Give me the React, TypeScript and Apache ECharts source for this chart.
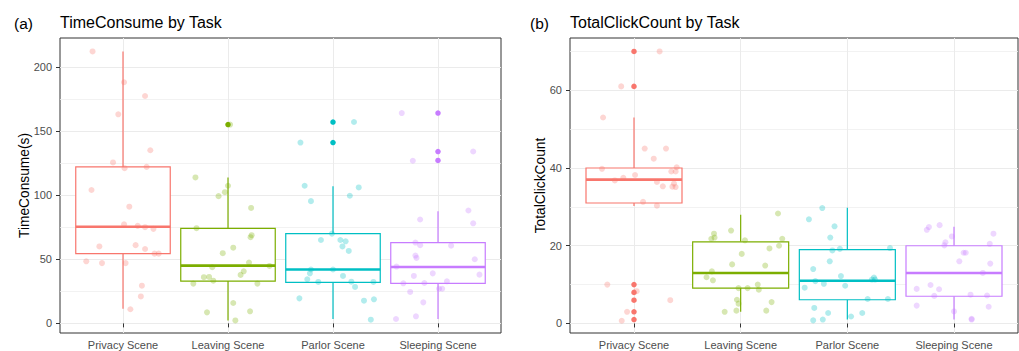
import React, { useEffect, useRef } from "react";
import * as echarts from "echarts";

const categories = ["Privacy Scene", "Leaving Scene", "Parlor Scene", "Sleeping Scene"];
const palette = ["#F8766D", "#7CAE00", "#00BFC4", "#C77CFF"];

// Box stats [min, Q1, median, Q3, max]
const timeBox = [
  [11.5, 54.4, 75.3, 122, 212],
  [2.3, 33, 45, 74, 113.8],
  [3.4, 32, 42, 70, 107],
  [3.4, 31.25, 44, 63, 87.5],
];
const timeOutliers = [[], [155], [157, 141], [164, 134, 127]];

const clickBox = [
  [30.2, 31, 37, 40, 53],
  [3, 9.1, 13, 21, 28],
  [1, 6.1, 11, 19, 29.8],
  [1, 7, 13, 20, 24.9],
];
const clickOutliers = [[70, 61, 10, 8, 6, 3, 1], [], [], []];

// Jittered observations: [x offset from category, value]
const timePrivacy = [
  [-0.29, 212], [0.01, 188], [0.21, 177.3], [-0.045, 163], [0.26, 135], [-0.095, 125.5],
  [0.015, 121], [0.225, 122], [-0.3, 104], [0.06, 91], [0.01, 77.3], [0.14, 76], [0.21, 75],
  [0.29, 73.7], [-0.225, 60], [0.12, 61], [0.21, 58], [0.3, 54.4], [0.34, 54.4], [-0.35, 48.4],
  [-0.2, 47], [0.025, 47], [0.18, 29.4], [0.17, 21], [0.07, 11],
];
const timeLeaving = [
  [0.02, 155], [-0.31, 113.8], [0.0, 107.3], [-0.03, 102.3], [-0.09, 99.2], [0.22, 90],
  [-0.3, 74.2], [0.225, 68.75], [0.215, 67.2], [0.05, 59], [-0.05, 54.7], [0.2, 47.4],
  [0.395, 44.8], [-0.15, 43.75], [0.15, 40.6], [0.12, 37.8], [-0.23, 36], [-0.18, 36.2],
  [-0.14, 33.3], [-0.33, 31], [0.28, 31], [0.05, 15.9], [-0.2, 8.6], [0.21, 9.4], [0.07, 2.3],
];
const timeParlor = [
  [0.2, 157], [-0.31, 141], [-0.27, 107.3], [0.245, 106], [0.16, 99.5], [-0.21, 95.3],
  [-0.01, 70], [-0.115, 65], [0.07, 65], [0.12, 64], [0.09, 60], [0.15, 56.5], [-0.21, 42],
  [0, 42], [-0.22, 39], [0.095, 37], [-0.245, 34.4], [-0.14, 32.3], [0.175, 32.5],
  [0.385, 32.3], [0.21, 28.4], [-0.32, 19.5], [0.295, 17.7], [0.39, 18.75], [0.36, 2.9],
];
const timeSleeping = [
  [-0.345, 164], [0.335, 134], [-0.24, 126.8], [0.29, 88], [-0.17, 81], [0.335, 78],
  [-0.215, 63], [-0.17, 61], [0.125, 60.6], [-0.215, 52.9], [-0.205, 51], [0.35, 50],
  [-0.395, 44.3], [-0.05, 39], [0.395, 38], [-0.23, 37], [0.085, 32.8], [-0.33, 31.25],
  [-0.13, 31.5], [0.01, 27], [0.04, 27], [-0.265, 24.5], [-0.14, 16.4], [-0.4, 3.4], [-0.21, 5.5],
];

const clickPrivacy = [
  [0.24, 70], [-0.12, 61], [-0.29, 53], [0.1, 45], [0.3, 45], [0.185, 42.4], [-0.3, 39.8],
  [0.01, 38.2], [0.4, 40.2], [0.35, 39.1], [0.39, 39.1], [-0.1, 37.5], [-0.18, 36.8],
  [0.215, 36.4], [0.375, 36], [0.27, 35.3], [0.36, 35.2], [0.39, 35.1], [0.085, 31.3],
  [0.215, 30.3], [-0.25, 10], [0.025, 8.3], [0.34, 6], [-0.065, 3], [-0.115, 0.7],
];
const clickLeaving = [
  [0.35, 28.3], [-0.09, 23.9], [-0.25, 23.1], [-0.275, 21.8], [-0.245, 22.1], [0.04, 21.4],
  [0.39, 21.8], [0.36, 20], [0.27, 19.3], [0.01, 17.9], [-0.08, 15.2], [0.23, 14.9],
  [-0.27, 13.4], [-0.32, 11.9], [-0.26, 11.1], [0.16, 10], [-0.02, 9.1], [0.065, 9.1],
  [0.17, 8.7], [-0.035, 6.1], [-0.02, 5.1], [-0.15, 3], [-0.04, 3.3], [0.29, 5.5], [0.24, 3.3],
];
const clickParlor = [
  [-0.235, 29.7], [-0.36, 26.8], [-0.12, 25], [-0.16, 22.1], [-0.14, 18.8], [-0.07, 19.2],
  [0.4, 19.4], [-0.165, 16], [-0.32, 14], [-0.06, 12.2], [-0.3, 10.9], [-0.22, 10.2],
  [-0.02, 9.7], [0.23, 11.3], [0.25, 11.8], [0.26, 11.3], [-0.4, 9.2], [0.19, 6.3],
  [0.38, 6.3], [-0.31, 4], [-0.18, 2.7], [0.14, 2.7], [0.035, 1.8], [-0.32, 0.8], [-0.23, 1],
];
const clickSleeping = [
  [-0.135, 25.3], [-0.235, 24.8], [-0.255, 24.1], [0.37, 23.1], [-0.02, 22.4], [-0.08, 20.9],
  [-0.09, 20.1], [0.335, 20.5], [0.09, 18.2], [0.11, 18.2], [0.05, 16], [0.34, 15.4],
  [0.27, 13], [-0.22, 9.9], [-0.35, 8.9], [-0.14, 8.8], [-0.185, 7.1], [0.155, 7.4],
  [0.31, 7.2], [-0.35, 4.6], [0.325, 4.3], [0, 3.1], [0.165, 1.2], [0.165, 1],
];

const timeMajor = [0, 50, 100, 150, 200];
const timeMinor = [25, 75, 125, 175];
const clickMajor = [0, 20, 40, 60];
const clickMinor = [10, 30, 50, 70];
const catTicks = [1, 2, 3, 4];

const FONT = "'Liberation Sans', Arial, Helvetica, sans-serif";

function xAxisFor(gridIndex: number) {
  return {
    type: "value",
    gridIndex,
    min: 0.4,
    max: 4.6,
    axisLine: { show: false },
    axisTick: { show: true, customValues: catTicks, length: 4, lineStyle: { color: "#333333", width: 1 } },
    axisLabel: {
      show: true,
      customValues: catTicks,
      margin: 6,
      color: "#4D4D4D",
      fontSize: 11,
      fontFamily: FONT,
      formatter: (v: number) => categories[Math.round(v) - 1] ?? "",
    },
    splitLine: { show: true, lineStyle: { color: "#EBEBEB", width: 1 } },
  };
}

function yAxesFor(gridIndex: number, min: number, max: number, major: number[], minor: number[]) {
  return [
    {
      type: "value",
      gridIndex,
      min,
      max,
      position: "left",
      axisLine: { show: false },
      axisTick: { show: true, customValues: major, length: 4, lineStyle: { color: "#333333", width: 1 } },
      axisLabel: { show: true, customValues: major, margin: 8, color: "#4D4D4D", fontSize: 11, fontFamily: FONT },
      splitLine: { show: true, lineStyle: { color: "#EBEBEB", width: 1 } },
    },
    {
      type: "value",
      gridIndex,
      min,
      max,
      position: "right",
      axisLine: { show: false },
      axisTick: { show: false, customValues: minor },
      axisLabel: { show: false, customValues: minor },
      splitLine: { show: true, lineStyle: { color: "#EFEFEF", width: 0.8 } },
    },
  ];
}

function boxSeries(xAxisIndex: number, yAxisIndex: number, stats: number[][]) {
  return {
    type: "custom",
    xAxisIndex,
    yAxisIndex,
    clip: true,
    z: 2,
    encode: { x: 0, y: [1, 2, 3, 4, 5] },
    data: stats.map((s, i) => [i + 1, ...s]),
    renderItem: (params: any, api: any) => {
      const x = api.value(0);
      const lo = api.coord([x, api.value(1)]);
      const q1 = api.coord([x, api.value(2)]);
      const med = api.coord([x, api.value(3)]);
      const q3 = api.coord([x, api.value(4)]);
      const hi = api.coord([x, api.value(5)]);
      const w = api.size([0.9, 0])[0];
      const color = palette[params.dataIndex];
      const lw = 1.2;
      return {
        type: "group",
        children: [
          { type: "line", shape: { x1: lo[0], y1: lo[1], x2: lo[0], y2: q1[1] }, style: { stroke: color, lineWidth: lw } },
          { type: "line", shape: { x1: hi[0], y1: hi[1], x2: hi[0], y2: q3[1] }, style: { stroke: color, lineWidth: lw } },
          {
            type: "rect",
            shape: { x: q3[0] - w / 2, y: q3[1], width: w, height: q1[1] - q3[1] },
            style: { fill: "#ffffff", stroke: color, lineWidth: lw },
          },
          {
            type: "line",
            shape: { x1: med[0] - w / 2, y1: med[1], x2: med[0] + w / 2, y2: med[1] },
            style: { stroke: color, lineWidth: 2.6 },
          },
        ],
      };
    },
  };
}

function outlierSeries(xAxisIndex: number, yAxisIndex: number, outliers: number[][]) {
  return outliers.map((vals, i) => ({
    type: "scatter",
    xAxisIndex,
    yAxisIndex,
    z: 3,
    symbolSize: 5.5,
    itemStyle: { color: palette[i], opacity: 1 },
    data: vals.map((v) => [i + 1, v]),
  }));
}

function jitterSeries(xAxisIndex: number, yAxisIndex: number, groups: number[][][]) {
  return groups.map((pts, i) => ({
    type: "scatter",
    xAxisIndex,
    yAxisIndex,
    z: 4,
    symbolSize: 6,
    itemStyle: { color: palette[i], opacity: 0.3 },
    data: pts.map(([dx, v]) => [i + 1 + dx, v]),
  }));
}

export default function App() {
  const ref = useRef<HTMLDivElement>(null);
  useEffect(() => {
    if (!ref.current) return;
    const chart = echarts.init(ref.current, undefined, { renderer: "svg" });
    const option: any = {
      animation: false,
      backgroundColor: "#ffffff",
      textStyle: { fontFamily: FONT },
      grid: [
        { left: 60, top: 38, width: 441, height: 295, show: true, borderColor: "#333333", borderWidth: 1, backgroundColor: "transparent" },
        { left: 570, top: 38, width: 448, height: 295, show: true, borderColor: "#333333", borderWidth: 1, backgroundColor: "transparent" },
      ],
      xAxis: [xAxisFor(0), xAxisFor(1)],
      yAxis: [
        ...yAxesFor(0, -7.5, 222.5, timeMajor, timeMinor),
        ...yAxesFor(1, -2.45, 73.45, clickMajor, clickMinor),
      ],
      graphic: [
        { type: "text", left: 14, top: 15, style: { text: "(a)", fontSize: 15.5, fill: "#000", fontFamily: FONT } },
        { type: "text", left: 60, top: 14, style: { text: "TimeConsume by Task", fontSize: 16, fill: "#000", fontFamily: FONT } },
        { type: "text", left: 530, top: 15, style: { text: "(b)", fontSize: 15.5, fill: "#000", fontFamily: FONT } },
        { type: "text", left: 570, top: 14, style: { text: "TotalClickCount by Task", fontSize: 16, fill: "#000", fontFamily: FONT } },
        {
          type: "text", x: 24.5, y: 185.5, rotation: Math.PI / 2,
          style: { text: "TimeConsume(s)", fontSize: 13.75, fill: "#000", fontFamily: FONT, align: "center", verticalAlign: "middle" },
        },
        {
          type: "text", x: 540.5, y: 185.5, rotation: Math.PI / 2,
          style: { text: "TotalClickCount", fontSize: 13.75, fill: "#000", fontFamily: FONT, align: "center", verticalAlign: "middle" },
        },
      ],
      series: [
        boxSeries(0, 0, timeBox),
        ...outlierSeries(0, 0, timeOutliers),
        ...jitterSeries(0, 0, [timePrivacy, timeLeaving, timeParlor, timeSleeping]),
        boxSeries(1, 2, clickBox),
        ...outlierSeries(1, 2, clickOutliers),
        ...jitterSeries(1, 2, [clickPrivacy, clickLeaving, clickParlor, clickSleeping]),
      ],
    };
    chart.setOption(option);
    return () => chart.dispose();
  }, []);
  return <div ref={ref} style={{ position: "fixed", left: 0, top: 0, width: 1019, height: 351 }} />;
}
